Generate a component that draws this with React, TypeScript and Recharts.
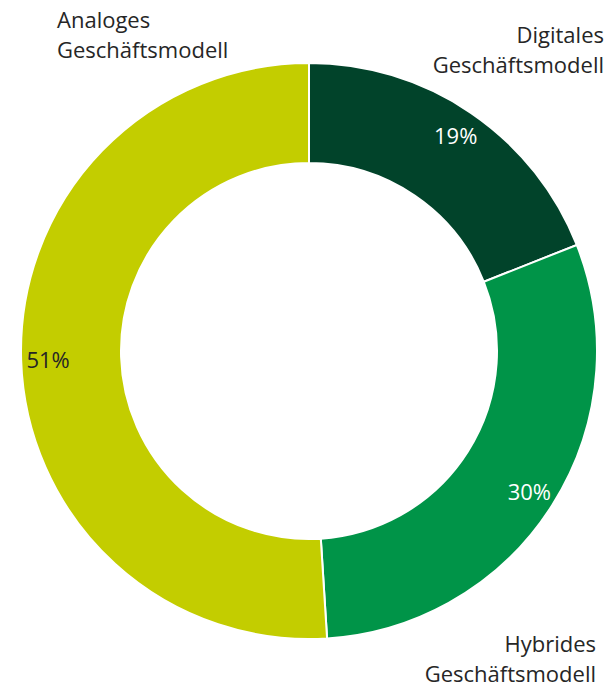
import React from "react";
import {PieChart, Pie, Cell} from "recharts";

const categories = ["Digitales Geschäftsmodell", "Hybrides Geschäftsmodell", "Analoges Geschäftsmodell"];
const shares = [19, 30, 51];
const colors = ["#01432A", "#009448", "#C3CD00"];
const percentColors = ["#ffffff", "#ffffff", "#262626"];

// category caption placement (x, first-line y, anchor)
const captions = [
    {x: 604, y: 34, anchor: "end"},
    {x: 596, y: 643, anchor: "end"},
    {x: 57, y: 19, anchor: "start"},
];

const data = categories.map((name, i) => ({name, value: shares[i]}));

const FONT = "'Open Sans', sans-serif";

const App = (): JSX.Element => {
    return (
        <div style={{position: "absolute", left: 0, top: 0}}>
            <PieChart width={608} height={688} margin={{top: 0, right: 0, bottom: 0, left: 0}}>
                <Pie
                    data={data}
                    dataKey={"value"}
                    cx={309}
                    cy={351}
                    innerRadius={188}
                    outerRadius={288}
                    startAngle={90}
                    endAngle={-270}
                    stroke={"#ffffff"}
                    strokeWidth={2}
                    isAnimationActive={false}
                    labelLine={false}
                    label={({cx, cy, midAngle, index}) => {
                        const RADIAN = Math.PI / 180;
                        const radius = 261;
                        const x = cx + radius * Math.cos(-midAngle * RADIAN);
                        const y = cy + radius * Math.sin(-midAngle * RADIAN);
                        const words = data[index].name.split(" ");
                        const cap = captions[index];
                        return (
                            <g>
                                <text x={x} y={y} fill={percentColors[index]} textAnchor={"middle"}
                                      dominantBaseline={"central"} fontFamily={FONT} fontSize={22}>
                                    {data[index].value}%
                                </text>
                                <text x={cap.x} y={cap.y} fill={"#262626"} textAnchor={cap.anchor}
                                      dominantBaseline={"central"} fontFamily={FONT} fontSize={22}>
                                    <tspan x={cap.x}>{words[0]}</tspan>
                                    <tspan x={cap.x} dy={30}>{words[1]}</tspan>
                                </text>
                            </g>
                        );
                    }}
                >
                    {data.map((entry, index) => (
                        <Cell key={`cell-${index}`} fill={colors[index]}/>
                    ))}
                </Pie>
            </PieChart>
        </div>
    );
};

export default App;
